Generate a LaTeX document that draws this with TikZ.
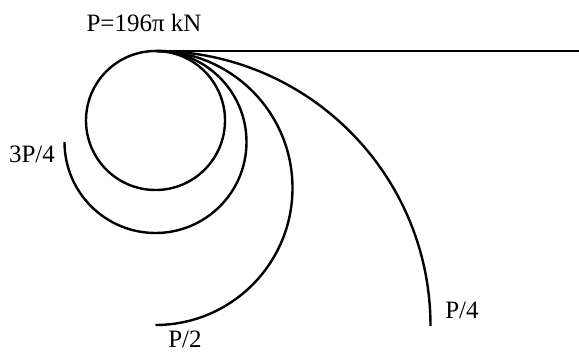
\documentclass[tikz,border=0pt]{standalone}
\usepackage{fontspec}
\setmainfont{Liberation Serif}
\tikzset{lbl/.style={font=\fontsize{25}{29}\selectfont, inner sep=0pt}}
\begin{document}
\begin{tikzpicture}[x=1pt,y=1pt,line width=2.4pt]
            \useasboundingbox (0,0) rectangle (579,354);
            \coordinate (fix) at (155.5,303);
            \coordinate (tip) at (579,303);
            \draw (fix)--(tip);
            \foreach \r/\a in {69.5/-270,91/-180,137/-90,275/0}{
                \draw (fix) arc[start angle=90,end angle=\a,radius=\r];
            }
            \node[lbl] (load) at (144,331) {P=196π kN};
            \node[lbl] (q3) at (32,200) {3P/4};
            \node[lbl] (q2) at (185,15) {P/2};
            \node[lbl] (q1) at (462,44) {P/4};
        \end{tikzpicture}
\end{document}
